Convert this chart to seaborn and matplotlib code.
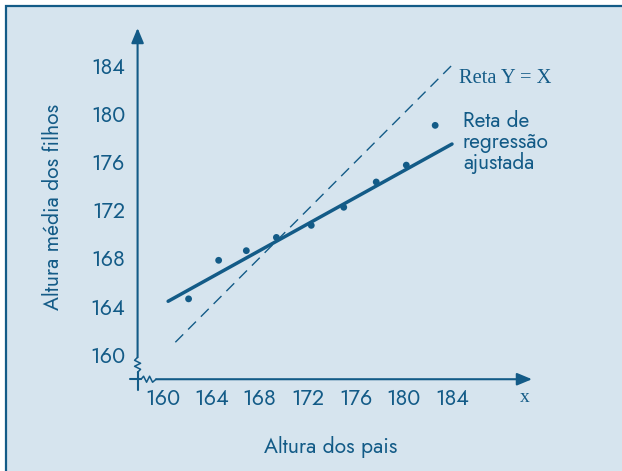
import numpy as np
import matplotlib
matplotlib.use('Agg')
import matplotlib.pyplot as plt
import seaborn as sns
from matplotlib.patches import Rectangle

# Dados
altura_pais = [162.1, 164.6, 166.9, 169.4, 172.3, 175.0, 177.7, 180.2, 182.6]
altura_filhos = [164.6, 167.8, 168.6, 169.7, 170.7, 172.2, 174.3, 175.7, 179.0]
# Reta de regressão ajustada (extremos)
reg_x = [160.4, 184.0]
reg_y = [164.4, 177.45]
# Reta Y = X (extremos)
id_x = [161.0, 184.1]
ticks = [160, 164, 168, 172, 176, 180, 184]

azul = '#135b87'
fundo = '#d6e4ee'

sns.set_style('white', {'axes.facecolor': fundo})
plt.rcParams['font.family'] = ['Jost', 'DejaVu Sans']

W, H = 622, 471
fig = plt.figure(figsize=(W / 100, H / 100), dpi=100, facecolor='white')
fig.patches.append(Rectangle((6 / W, -0.1), 1.2, 1 - 6 / H + 0.1, transform=fig.transFigure,
                             facecolor=fundo, edgecolor=azul, lw=1.6, zorder=-10))
ax = fig.add_axes([130 / W, 1 - 392 / H, 402 / W, 364 / H])
ax.set_facecolor('none')

xmin, xmax = 157.23, 190.65
ymin, ymax = 156.87, 187.08
x0, y0 = 157.86, 157.93  # onde os eixos se cruzam
ax.set_xlim(xmin, xmax)
ax.set_ylim(ymin, ymax)

# Retas e pontos
sns.lineplot(x=id_x, y=id_x, color=azul, lw=1.0, linestyle=(0, (8, 5)), ax=ax)
sns.lineplot(x=reg_x, y=reg_y, color=azul, lw=2.5, ax=ax)
sns.scatterplot(x=altura_pais, y=altura_filhos, color=azul, s=24, edgecolor='none', ax=ax, zorder=3)

# Eixos
for s in ['top', 'right']:
    ax.spines[s].set_visible(False)
ax.spines['left'].set_position(('data', x0))
ax.spines['bottom'].set_position(('data', y0))
ax.spines['left'].set_color('none')
ax.spines['bottom'].set_color('none')
ax.set_xticks(ticks)
ax.set_yticks(ticks)
ax.tick_params(axis='y', direction='out', length=4, width=1.2, color=azul, labelcolor=azul,
               labelsize=15.5, pad=5)
ax.tick_params(axis='x', direction='in', length=4, width=1.2, color=azul, labelcolor=azul,
               labelsize=15.5, pad=6)

k = 1 / 12.04  # unidades por pixel
lw_eixo = 1.5
# eixo x com quebra
ax.plot([xmin, x0 + 3.5 * k], [y0, y0], color=azul, lw=lw_eixo, clip_on=False)
zx = np.array([3.5, 6, 9, 12, 15, 18.5]) * k + x0
zy = y0 + np.array([0, 3, -3, 3, -3, 0]) * k
ax.plot(zx, zy, color=azul, lw=1.1, clip_on=False)
ax.annotate('', xy=(xmax, y0), xytext=(x0 + 18.5 * k, y0), annotation_clip=False,
            arrowprops=dict(arrowstyle='-|>,head_length=0.6,head_width=0.25', color=azul,
                            lw=lw_eixo, shrinkA=0, shrinkB=0, mutation_scale=15))
# eixo y com quebra
yb = 160 - 15 * k
ax.plot([x0, x0], [ymin + 2 * k, yb - 3 * k], color=azul, lw=lw_eixo, clip_on=False)
qy = yb + np.array([-3, 0, 3, 6, 9, 12]) * k
qx = x0 + np.array([0, 3, -3, 3, -3, 0]) * k
ax.plot(qx, qy, color=azul, lw=1.1, clip_on=False)
ax.annotate('', xy=(x0, ymax), xytext=(x0, yb + 12 * k), annotation_clip=False,
            arrowprops=dict(arrowstyle='-|>,head_length=0.6,head_width=0.25', color=azul,
                            lw=lw_eixo, shrinkA=0, shrinkB=0, mutation_scale=15))

# Textos
fig.text(53 / W, 1 - 207 / H, 'Altura média dos filhos', rotation=90, ha='center', va='center',
         size=15.2, color=azul)
fig.text(331 / W, 1 - 447 / H, 'Altura dos pais', ha='center', va='center', size=15.2, color=azul)
fig.text(525 / W, 1 - 398 / H, 'x', ha='center', va='center', size=14, color=azul,
         family=['Liberation Serif', 'DejaVu Serif'])
fig.text(459 / W, 1 - 83 / H, 'Reta Y = X', ha='left', va='baseline', size=14.8, color=azul,
         family=['Liberation Serif', 'DejaVu Serif'])
fig.text(463 / W, 1 - 110 / H, 'Reta de\nregressão\najustada', ha='left', va='top', size=15,
         color=azul, linespacing=0.95)

fig.savefig('out.png', dpi=100)
